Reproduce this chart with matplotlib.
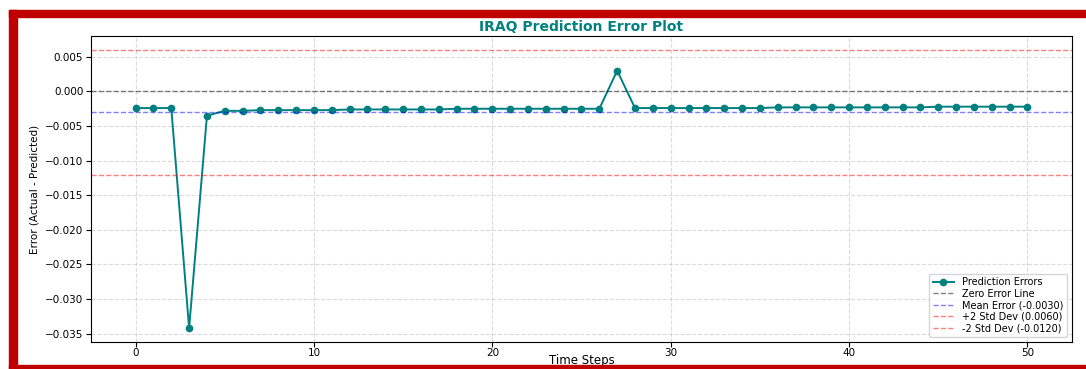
import numpy as np
import matplotlib.pyplot as plt
from matplotlib.patches import Rectangle

# prediction errors per time step
errors = [-0.0024, -0.0024, -0.0024, -0.0342, -0.0035,
          -0.0028, -0.0028, -0.0027, -0.0027, -0.0027,
          -0.0027, -0.0027, -0.0026, -0.0026, -0.0026,
          -0.0026, -0.0026, -0.0026, -0.0025, -0.0025,
          -0.0025, -0.0025, -0.0025, -0.0025, -0.0025,
          -0.0025, -0.0025, 0.0030, -0.0024, -0.0024,
          -0.0024, -0.0024, -0.0024, -0.0024, -0.0024,
          -0.0024, -0.0023, -0.0023, -0.0023, -0.0023,
          -0.0023, -0.0023, -0.0023, -0.0023, -0.0023,
          -0.0022, -0.0022, -0.0022, -0.0022, -0.0022,
          -0.0022]
steps = np.arange(len(errors))

mean_err = -0.0030
upper = 0.0060
lower = -0.0120

W, H = 1086, 369
fig = plt.figure(figsize=(W / 100, H / 100), dpi=100)
ax = fig.add_axes([0.0838, 0.0732, 0.9033, 0.829])

ax.plot(steps, errors, color="teal", marker="o", markersize=4.5, linewidth=1.4,
        label="Prediction Errors")
ax.axhline(0, color="black", linestyle="--", linewidth=1, alpha=0.5, label="Zero Error Line")
ax.axhline(mean_err, color="blue", linestyle="--", linewidth=1, alpha=0.5,
           label=f"Mean Error ({mean_err:.4f})")
ax.axhline(upper, color="red", linestyle="--", linewidth=1, alpha=0.5,
           label=f"+2 Std Dev ({upper:.4f})")
ax.axhline(lower, color="red", linestyle="--", linewidth=1, alpha=0.5,
           label=f"-2 Std Dev ({lower:.4f})")

ax.set_xlim(-2.5, 52.5)
ax.set_ylim(-0.0362, 0.008)
ax.set_xticks([0, 10, 20, 30, 40, 50])
ax.set_yticks(np.arange(-0.035, 0.0051, 0.005))
ax.tick_params(labelsize=7.5, pad=2)
ax.tick_params(axis="x", pad=1)
ax.grid(True, linestyle="--", alpha=0.45)

ax.set_title("IRAQ Prediction Error Plot", fontsize=10, fontweight="bold", color="teal", pad=4)
ax.set_xlabel("Time Steps", fontsize=8.5)
ax.xaxis.set_label_coords(0.5, -0.038)
ax.set_ylabel("Error (Actual - Predicted)", fontsize=7.5)
ax.legend(loc="lower right", fontsize=7, handlelength=2.2, labelspacing=0.15,
          borderpad=0.4)

# red frame bands: left, top, bottom
red = "#c00000"
for x0, y0, w, h in [(9, 10, 8, 359), (9, 10, 1077, 7), (9, 365, 1077, 4)]:
    fig.patches.append(Rectangle((x0 / W, 1 - (y0 + h) / H), w / W, h / H,
                                 transform=fig.transFigure, color=red, zorder=5))

fig.savefig("out.png", dpi=100)
